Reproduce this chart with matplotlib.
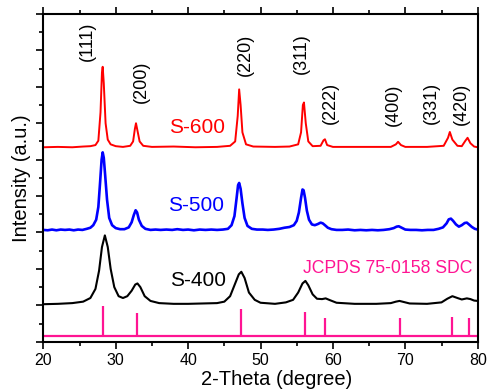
import matplotlib.pyplot as plt
from matplotlib.ticker import MultipleLocator

# ============================================================
# A. DATA
# ============================================================

tth_600 = [20, 22, 24, 25.5, 26.5, 27.2, 27.6, 27.9, 28.1, 28.2, 28.35, 28.6, 28.9,
           29.3, 30, 31, 32, 32.4, 32.65, 32.8, 33.0, 33.3, 33.8, 35, 38, 41, 44,
           45.8, 46.5, 46.85, 47.05, 47.25, 47.5, 48, 49, 52, 54, 55.2, 55.6, 55.85,
           56.0, 56.25, 56.6, 57.2, 58.3, 58.7, 58.9, 59.2, 60, 64, 68, 68.7, 69.0,
           69.4, 70, 73, 75.3, 75.9, 76.15, 76.5, 77.2, 77.8, 78.3, 78.6, 79.0, 79.5, 80]
int_600 = [5.34, 5.35, 5.34, 5.36, 5.37, 5.40, 5.52, 6.3, 7.4, 7.55, 7.1, 6.0, 5.55,
           5.42, 5.37, 5.35, 5.38, 5.5, 5.85, 6.0, 5.8, 5.5, 5.38, 5.35, 5.36, 5.34, 5.35,
           5.38, 5.5, 6.2, 6.93, 6.5, 5.75, 5.42, 5.36, 5.35, 5.36, 5.42, 5.75, 6.5,
           6.57, 6.0, 5.5, 5.37, 5.38, 5.53, 5.56, 5.4, 5.35, 5.35, 5.35, 5.42, 5.49,
           5.4, 5.35, 5.35, 5.38, 5.6, 5.76, 5.55, 5.38, 5.37, 5.52, 5.6, 5.45, 5.36, 5.34]

tth_500 = [20, 20.6, 21.2, 21.8, 22.4, 23, 23.6, 24.2, 24.8, 25.4, 26, 26.5, 26.9, 27.3,
           27.6, 27.85, 28.05, 28.2, 28.35, 28.55, 28.8, 29.1, 29.5, 30, 30.6, 31.2, 31.8,
           32.2, 32.5, 32.75, 32.95, 33.2, 33.6, 34.1, 34.8, 35.5, 36.2, 37, 37.8, 38.5,
           39.3, 40, 40.8, 41.6, 42.4, 43.2, 44, 44.8, 45.5, 46, 46.4, 46.7, 46.9, 47.05,
           47.25, 47.5, 47.8, 48.2, 48.8, 49.5, 50.3, 51, 51.8, 52.6, 53.3, 54, 54.6, 55,
           55.3, 55.6, 55.8, 55.95, 56.15, 56.4, 56.7, 57.1, 57.5, 57.9, 58.3, 58.6, 58.9,
           59.3, 59.8, 60.5, 61.3, 62.1, 63, 63.8, 64.6, 65.4, 66.2, 67, 67.8, 68.4, 68.8,
           69.1, 69.5, 70, 70.7, 71.5, 72.3, 73.1, 73.9, 74.6, 75.2, 75.7, 76.0, 76.3,
           76.6, 77.0, 77.4, 77.8, 78.2, 78.5, 78.8, 79.2, 79.6, 80]
int_500 = [3.07, 3.06, 3.08, 3.06, 3.08, 3.07, 3.08, 3.06, 3.08, 3.07, 3.1, 3.13, 3.2, 3.35,
           3.7, 4.4, 5.0, 5.2, 5.05, 4.55, 3.9, 3.4, 3.2, 3.12, 3.09, 3.09, 3.14,
           3.28, 3.48, 3.61, 3.55, 3.35, 3.18, 3.1, 3.07, 3.08, 3.07, 3.08, 3.07, 3.09,
           3.07, 3.08, 3.06, 3.08, 3.07, 3.08, 3.07, 3.08, 3.1, 3.2, 3.45, 3.95, 4.3, 4.36,
           4.2, 3.8, 3.4, 3.18, 3.1, 3.08, 3.08, 3.07, 3.08, 3.1, 3.13, 3.15, 3.2, 3.32,
           3.55, 3.95, 4.18, 4.16, 3.95, 3.6, 3.35, 3.22, 3.2, 3.23, 3.27, 3.25, 3.2,
           3.13, 3.09, 3.07, 3.07, 3.08, 3.06, 3.07, 3.06, 3.07, 3.06, 3.07, 3.09, 3.12, 3.16,
           3.17, 3.13, 3.08, 3.07, 3.07, 3.06, 3.07, 3.07, 3.1, 3.14, 3.25, 3.36, 3.38,
           3.32, 3.22, 3.16, 3.2, 3.26, 3.27, 3.22, 3.15, 3.1, 3.08]

tth_400 = [20, 22, 24, 25.5, 26.5, 27.2, 27.7, 28.1, 28.5, 28.9, 29.3, 29.8, 30.4, 31.0,
           31.6, 32.2, 32.7, 33.0, 33.4, 34.0, 34.8, 36, 38, 40, 42, 44, 45, 45.8, 46.5,
           47.0, 47.35, 47.8, 48.4, 49.2, 50, 52, 53.5, 54.5, 55.2, 55.8, 56.2, 56.6,
           57.2, 57.8, 58.5, 59.0, 59.6, 60.5, 63, 66, 68, 68.7, 69.2, 69.8, 70.6, 73,
           75, 75.8, 76.5, 77.2, 77.8, 78.5, 79.0, 79.5, 80]
int_400 = [1.03, 1.04, 1.06, 1.1, 1.2, 1.45, 1.95, 2.6, 2.92, 2.6, 2.0, 1.5, 1.25, 1.2,
           1.25, 1.4, 1.57, 1.6, 1.5, 1.25, 1.12, 1.06, 1.04, 1.04, 1.05, 1.06, 1.1, 1.25, 1.6,
           1.85, 1.92, 1.75, 1.35, 1.15, 1.07, 1.04, 1.08, 1.15, 1.35, 1.6, 1.67, 1.55,
           1.3, 1.18, 1.17, 1.19, 1.14, 1.07, 1.04, 1.04, 1.06, 1.1, 1.12, 1.09, 1.05, 1.04,
           1.08, 1.18, 1.25, 1.2, 1.16, 1.19, 1.17, 1.13, 1.12]

# JCPDS 75-0158 reference sticks
ref_pos = [28.3, 32.9, 47.3, 56.2, 58.9, 69.2, 76.5, 78.8]
ref_top = [0.98, 0.78, 0.90, 0.82, 0.65, 0.64, 0.68, 0.66]
ref_base = 0.16

# Miller indices
hkl_labels = ['(111)', '(200)', '(220)', '(311)', '(222)', '(400)', '(331)', '(420)']
hkl_x = [26.1, 33.6, 47.85, 55.7, 59.6, 68.3, 73.65, 77.7]
hkl_y = [8.26, 7.14, 7.87, 7.9, 6.56, 6.5, 6.56, 6.52]

# ============================================================
# B. FIGURE
# ============================================================

plt.rcParams['font.family'] = ['Liberation Sans', 'DejaVu Sans']

fig = plt.figure(figsize=(4.89, 3.92), dpi=100)
ax = fig.add_axes([0.0886, 0.1283, 0.8883, 0.836])

ax.plot(tth_600, int_600, color='#ff0000', linewidth=1.4)
ax.plot(tth_500, int_500, color='#0000ff', linewidth=1.9)
ax.plot(tth_400, int_400, color='black', linewidth=1.5)

pink = '#ff1493'
ax.vlines(ref_pos, ref_base, ref_top, color=pink, linewidth=1.6)
ax.axhline(ref_base, color=pink, linewidth=1.6)

# ============================================================
# C. TEXT
# ============================================================

ax.text(37.4, 5.89, 'S-600', color='#ff0000', fontsize=15, va='center')
ax.text(37.2, 3.75, 'S-500', color='#0000ff', fontsize=15, va='center')
ax.text(37.5, 1.69, 'S-400', color='black', fontsize=15, va='center')
ax.text(79.2, 2.02, 'JCPDS 75-0158 SDC', color=pink, fontsize=12.7,
        ha='right', va='center')

for lab, hx, hy in zip(hkl_labels, hkl_x, hkl_y):
    ax.text(hx, hy, lab, rotation=90, fontsize=13, ha='center', va='center')

ax.set_xlabel('2-Theta (degree)', fontsize=14.5)
ax.set_ylabel('Intensity (a.u.)', fontsize=14.5, labelpad=4)
ax.xaxis.set_label_coords(0.537, -0.085)

# ============================================================
# D. AXES FORMAT
# ============================================================

ax.set_xlim(20, 80)
ax.set_ylim(0, 9)
ax.xaxis.set_major_locator(MultipleLocator(10))
ax.xaxis.set_minor_locator(MultipleLocator(5))
ax.yaxis.set_major_locator(MultipleLocator(1))
ax.yaxis.set_minor_locator(MultipleLocator(0.5))

ax.tick_params(which='both', direction='out', top=True, right=False,
               labelleft=False, width=1.2)
ax.tick_params(which='major', length=5)
ax.tick_params(which='minor', length=3)
ax.tick_params(axis='x', labelsize=11.5, pad=3)

for sp in ax.spines.values():
    sp.set_linewidth(1.5)

plt.savefig('out.png', dpi=100)
